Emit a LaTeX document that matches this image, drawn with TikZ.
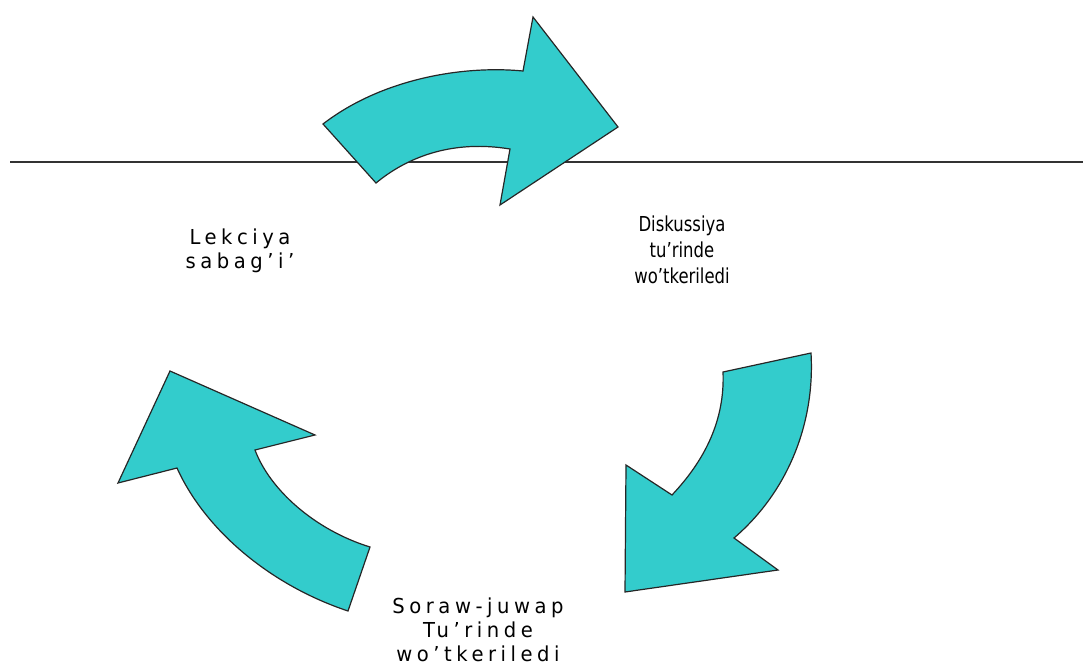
\documentclass[tikz,border=0pt]{standalone}
\usepackage{fontspec}
\usepackage{tikz}
\newfontfamily\widefont[FakeStretch=0.95,LetterSpace=22]{DejaVu Sans}
\newfontfamily\narrowfont[FakeStretch=0.8]{DejaVu Sans}
\definecolor{arrowteal}{RGB}{51,204,204}

\begin{document}
\begin{tikzpicture}[x=1pt, y=-1pt,
    bigarrow/.style={fill=arrowteal, draw=black!85, line width=1.2pt, line join=miter},
    lbl/.style={align=center, inner sep=0pt, anchor=north},
    wide/.style={lbl, font=\widefont\fontsize{20.6}{24}\selectfont},
    narrow/.style={lbl, font=\narrowfont\fontsize{20.6}{26}\selectfont}]

   \useasboundingbox (0,0) rectangle (1083,666);

   \coordinate (lineL) at (10,162);
   \coordinate (lineR) at (1083,162);
   \draw[black!80, line width=1.5pt] (lineL) -- (lineR);

   % top arrow
   \draw[bigarrow] (323,124) .. controls (380,80) and (460,65) .. (523,71)
        -- (533,17) -- (618,127) -- (500,205) -- (510,149)
        .. controls (455,140) and (410,155) .. (376,183) -- cycle;

   % right arrow
   \draw[bigarrow] (811,353) -- (723,372)
        .. controls (725,420) and (705,460) .. (672,495)
        -- (626,465) -- (625,592) -- (778,570) -- (734,538)
        .. controls (790,490) and (815,420) .. (811,353) -- cycle;

   % left arrow
   \draw[bigarrow] (170,371) -- (118,483) -- (177,468)
        .. controls (205,530) and (270,585) .. (348,611)
        -- (370,547)
        .. controls (315,530) and (270,490) .. (255,450)
        -- (315,435) -- cycle;

   \node[wide] (lekciya) at (240,229) {Lekciya\\sabag’i’};
   \node[narrow] (diskussiya) at (682,216) {Diskussiya\\tu’rinde\\wo’tkeriledi};
   \node[wide] (soraw) at (478,598) {Soraw-juwap\\Tu’rinde\\wo’tkeriledi};

\end{tikzpicture}
\end{document}
